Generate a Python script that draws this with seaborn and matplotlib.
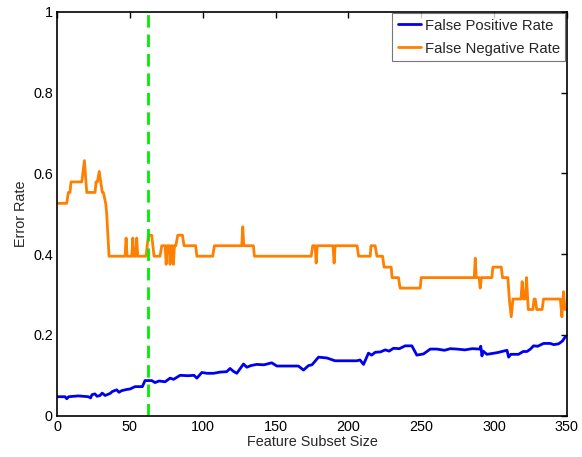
import numpy as np
import pandas as pd
import matplotlib
matplotlib.use("Agg")
import matplotlib.pyplot as plt
import seaborn as sns

# False Negative Rate breakpoints (x, y)
fnr_x = [0, 6.6, 7.8, 8.9, 9.6, 17, 18.8, 20.4, 26.1, 26.8, 27.7, 29, 30, 31.1, 31.8, 33.4, 34.1, 35.7,
         46.7, 47.4, 48.1, 51.3, 52, 52.7, 54, 54.7, 55.4, 61.1, 62.7, 65, 66.6, 70.7, 71.9, 74.2, 74.9, 75.6,
         76.9, 77.6, 78.3, 79.2, 79.9, 80.6, 81.5, 82.9, 86.1, 87.2, 95.2, 96, 106.9, 108, 126.8, 127.5, 128.2,
         134.8, 135.5, 174.5, 175.5, 177.2, 177.9, 178.6, 189.5, 190.2, 190.9, 206, 207, 215, 215.5, 218.4,
         219.6, 223.5, 224.5, 229.4, 230, 234.4, 235.5, 249.3, 250, 286.4, 287.1, 287.8, 289.8, 290.5, 291.3,
         298.5, 299.2, 305, 305.8, 309.5, 310.5, 311.8, 313, 318.5, 319.3, 320.3, 321.5, 322.3, 323.5, 326.7,
         327.5, 328.3, 329.3, 333, 334, 345.5, 346.6, 347.7, 348.7, 350]
fnr_y = [0.526, 0.526, 0.553, 0.553, 0.579, 0.579, 0.632, 0.553, 0.553, 0.579, 0.579, 0.605, 0.579, 0.553, 0.553,
         0.526, 0.500, 0.395,
         0.395, 0.440, 0.395, 0.395, 0.440, 0.395, 0.395, 0.440, 0.395, 0.395, 0.447, 0.447, 0.395, 0.395, 0.421,
         0.421, 0.375, 0.421,
         0.421, 0.375, 0.421, 0.421, 0.375, 0.421, 0.421, 0.447, 0.447, 0.421, 0.421, 0.395, 0.395, 0.421, 0.421,
         0.468, 0.421,
         0.421, 0.395, 0.395, 0.421, 0.421, 0.378, 0.421, 0.421, 0.378, 0.421, 0.421, 0.395, 0.395, 0.421, 0.421,
         0.395, 0.395, 0.368, 0.368, 0.342, 0.342, 0.316, 0.316, 0.342, 0.342, 0.390, 0.342, 0.342, 0.316, 0.342,
         0.342, 0.368, 0.368, 0.342, 0.342, 0.289, 0.245, 0.289, 0.289, 0.332, 0.289, 0.289, 0.342, 0.263, 0.263,
         0.289, 0.289, 0.263, 0.263, 0.289, 0.289, 0.245, 0.307, 0.263, 0.263]

# False Positive Rate readings (x, y)
fpr_x = [0, 5.5, 6.7, 8, 14.6, 21.5, 23, 24, 26, 27.5, 29.5, 31, 33, 36.4, 38, 41, 42.5, 44.4, 47.9, 50, 53.6,
         58.6, 60.4, 65, 67.3, 70, 74.2, 77.6, 80, 84.5, 90, 94, 96, 99.4, 103, 107.4, 112, 116.5, 118.8, 121,
         123.4, 128, 130.3, 133, 137, 142, 147.4, 150.9, 158, 165.7, 169.2, 172.6, 175, 179.5, 185.2, 190.9,
         198, 205.8, 208, 210.4, 213.8, 216, 218.4, 222, 225.3, 228, 231, 235, 239, 243.6, 247, 251.6, 256.2,
         260.8, 266, 270, 274.5, 280, 285, 290.2, 290.9, 291.7, 292.5, 295.1, 302, 308.9, 310, 311.5, 316.8,
         320, 322.6, 325, 327.1, 330, 334, 338.6, 341, 344.3, 347, 349]
fpr_y = [0.047, 0.047, 0.042, 0.047, 0.049, 0.047, 0.044, 0.052, 0.054, 0.048, 0.050, 0.056, 0.050, 0.055,
         0.060, 0.064, 0.058, 0.062, 0.065, 0.066, 0.072, 0.072, 0.087, 0.087, 0.082, 0.086, 0.084, 0.093,
         0.090, 0.100, 0.099, 0.100, 0.093, 0.107, 0.105, 0.105, 0.108, 0.109, 0.117, 0.110, 0.105, 0.128,
         0.120, 0.124, 0.127, 0.126, 0.131, 0.123, 0.123, 0.123, 0.113, 0.124, 0.126, 0.145, 0.143, 0.136,
         0.136, 0.136, 0.138, 0.127, 0.155, 0.150, 0.157, 0.158, 0.163, 0.160, 0.167, 0.166, 0.173, 0.173,
         0.150, 0.153, 0.165, 0.165, 0.162, 0.166, 0.165, 0.163, 0.166, 0.165, 0.172, 0.148, 0.160, 0.152,
         0.156, 0.162, 0.145, 0.152, 0.152, 0.159, 0.159, 0.165, 0.173, 0.172, 0.179, 0.179, 0.176, 0.178,
         0.185, 0.196]

selected_x = 62.5

x_ticks = [0, 50, 100, 150, 200, 250, 300, 350]
y_ticks = [0, 0.2, 0.4, 0.6, 0.8, 1]
y_tick_labels = ["0", "0.2", "0.4", "0.6", "0.8", "1"]

sns.set_style("white")
plt.rcParams["font.family"] = ["Liberation Sans", "DejaVu Sans"]

fig = plt.figure(figsize=(5.82, 4.57), dpi=100)
ax = fig.add_axes([0.098, 0.0904, 0.876, 0.8834])

df_fp = pd.DataFrame({"x": fpr_x, "y": fpr_y})
df_fn = pd.DataFrame({"x": fnr_x, "y": fnr_y})
sns.lineplot(data=df_fp, x="x", y="y", ax=ax, color="#0000f0", linewidth=2.0,
             label="False Positive Rate", estimator=None, sort=False)
sns.lineplot(data=df_fn, x="x", y="y", ax=ax, color="#ff8000", linewidth=2.0,
             label="False Negative Rate", estimator=None, sort=False)
ax.axvline(selected_x, color="#00ee00", linestyle=(0, (4.5, 2.5)), linewidth=2.0)

ax.set_xlim(0, 350)
ax.set_ylim(0, 1)
ax.set_xticks(x_ticks)
ax.set_yticks(y_ticks)
ax.set_yticklabels(y_tick_labels)
ax.set_xlabel("Feature Subset Size", fontsize=10.4, labelpad=1)
ax.set_ylabel("Error Rate", fontsize=10.4, labelpad=4)
ax.tick_params(direction="in", length=4, width=1, top=True, right=True, labelsize=10.4, pad=3, colors="black")
for s in ax.spines.values():
    s.set_visible(True)
    s.set_color("black")
    s.set_linewidth(1.2)

leg = ax.legend(loc="upper right", fontsize=10.7, frameon=True, fancybox=False, handlelength=1.6,
                handletextpad=0.25, borderpad=0.35, labelspacing=0.6, borderaxespad=0.1)
leg.get_frame().set_edgecolor("#555555")
leg.get_frame().set_linewidth(0.8)

fig.savefig("out.png", dpi=100)
